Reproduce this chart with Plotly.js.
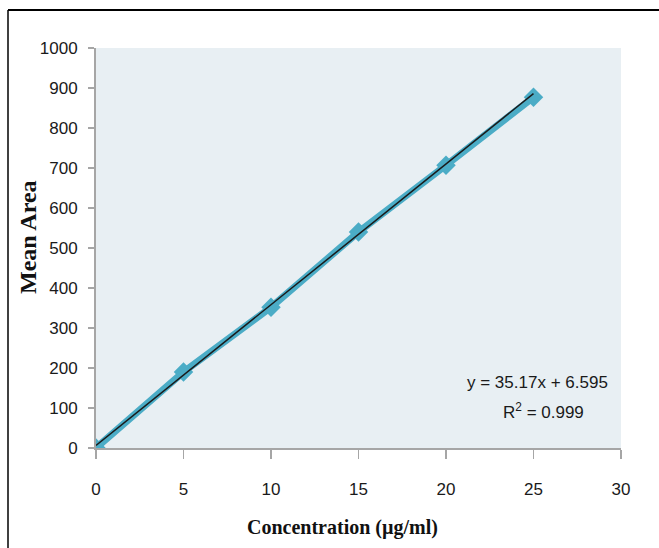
<!DOCTYPE html>
<html>
<head>
<meta charset="utf-8">
<script src="https://cdn.plot.ly/plotly-3.0.1.min.js"></script>
<style>
html,body{margin:0;padding:0;background:#ffffff;}
#chart{width:659px;height:548px;}
</style>
</head>
<body>
<div id="chart"></div>
<script>
// Data
var concentration = [0, 5, 10, 15, 20, 25];
var meanArea = [0, 190, 352, 540, 707, 877];
var trendSlope = 35.17;
var trendIntercept = 6.595;
var trendRange = [0, 25];
var equationText = "y = 35.17x + 6.595";
var r2Text = "R<sup>2</sup> = 0.999";
var xTitle = "Concentration (µg/ml)";
var yTitle = "Mean Area";
var xTicks = [0, 5, 10, 15, 20, 25, 30];
var yTicks = [0, 100, 200, 300, 400, 500, 600, 700, 800, 900, 1000];

var trendY = trendRange.map(function (x) { return trendSlope * x + trendIntercept; });

var sans = "Liberation Sans Narrow, Arial Narrow, Liberation Sans, Arial, sans-serif";
var serif = "Liberation Serif, Times New Roman, serif";

// plot area geometry in px (for paper-referenced text and border)
var L = 96, R = 38, T = 48, B = 100, W = 659, H = 548;
var pw = W - L - R, ph = H - T - B;
function px2x(p) { return (p - L) / pw; }
function py2y(p) { return (H - B - p) / ph; }

var traces = [
  {
    x: concentration, y: meanArea, type: 'scatter', mode: 'lines+markers',
    line: {color: '#4BACC6', width: 7},
    marker: {symbol: 'diamond', size: 15, color: '#4BACC6'},
    hoverinfo: 'x+y', showlegend: false
  },
  {
    x: trendRange, y: trendY, type: 'scatter', mode: 'lines',
    line: {color: '#1a1a1a', width: 1.5},
    hoverinfo: 'skip', showlegend: false
  }
];

var tickFont = {family: sans, size: 17, color: '#1a1a1a'};

var layout = {
  width: W, height: H,
  margin: {l: L, r: R, t: T, b: B, pad: 0},
  paper_bgcolor: '#ffffff',
  plot_bgcolor: '#E8EFF3',
  showlegend: false,
  xaxis: {
    range: [0, 30], tickvals: xTicks, ticktext: xTicks.map(String),
    showgrid: false, zeroline: false,
    showline: true, linecolor: '#A6A6A6', linewidth: 2,
    ticks: 'outside', ticklen: 9, tickwidth: 1.5, tickcolor: '#A6A6A6',
    ticklabelstandoff: 16,
    tickfont: tickFont
  },
  yaxis: {
    range: [0, 1000], tickvals: yTicks, ticktext: yTicks.map(String),
    showgrid: false, zeroline: false,
    showline: true, linecolor: '#A6A6A6', linewidth: 2,
    ticks: 'outside', ticklen: 6, tickwidth: 1.5, tickcolor: '#A6A6A6',
    ticklabelstandoff: 7,
    tickfont: tickFont
  },
  annotations: [
    {xref: 'paper', yref: 'paper', x: px2x(342), y: py2y(527), xanchor: 'center', yanchor: 'middle',
     text: '<b>' + xTitle + '</b>', showarrow: false, font: {family: serif, size: 20, color: '#111111'}},
    {xref: 'paper', yref: 'paper', x: px2x(28), y: py2y(237), xanchor: 'center', yanchor: 'middle',
     text: '<b>' + yTitle + '</b>', textangle: -90, showarrow: false, font: {family: serif, size: 24, color: '#111111'}},
    {xref: 'paper', yref: 'paper', x: px2x(610), y: py2y(382), xanchor: 'right', yanchor: 'middle',
     text: equationText, showarrow: false, font: {family: sans, size: 17, color: '#1a1a1a'}},
    {xref: 'paper', yref: 'paper', x: px2x(543), y: py2y(411), xanchor: 'center', yanchor: 'middle',
     text: r2Text, showarrow: false, font: {family: sans, size: 17, color: '#1a1a1a'}}
  ],
  shapes: [
    {type: 'line', xref: 'paper', yref: 'paper', x0: px2x(8), x1: px2x(659), y0: py2y(10), y1: py2y(10),
     line: {color: '#000000', width: 2}, layer: 'above'},
    {type: 'line', xref: 'paper', yref: 'paper', x0: px2x(8), x1: px2x(8), y0: py2y(10), y1: py2y(548),
     line: {color: '#000000', width: 1.5}, layer: 'above'}
  ]
};

Plotly.newPlot('chart', traces, layout, {displayModeBar: false, staticPlot: true});
</script>
</body>
</html>
